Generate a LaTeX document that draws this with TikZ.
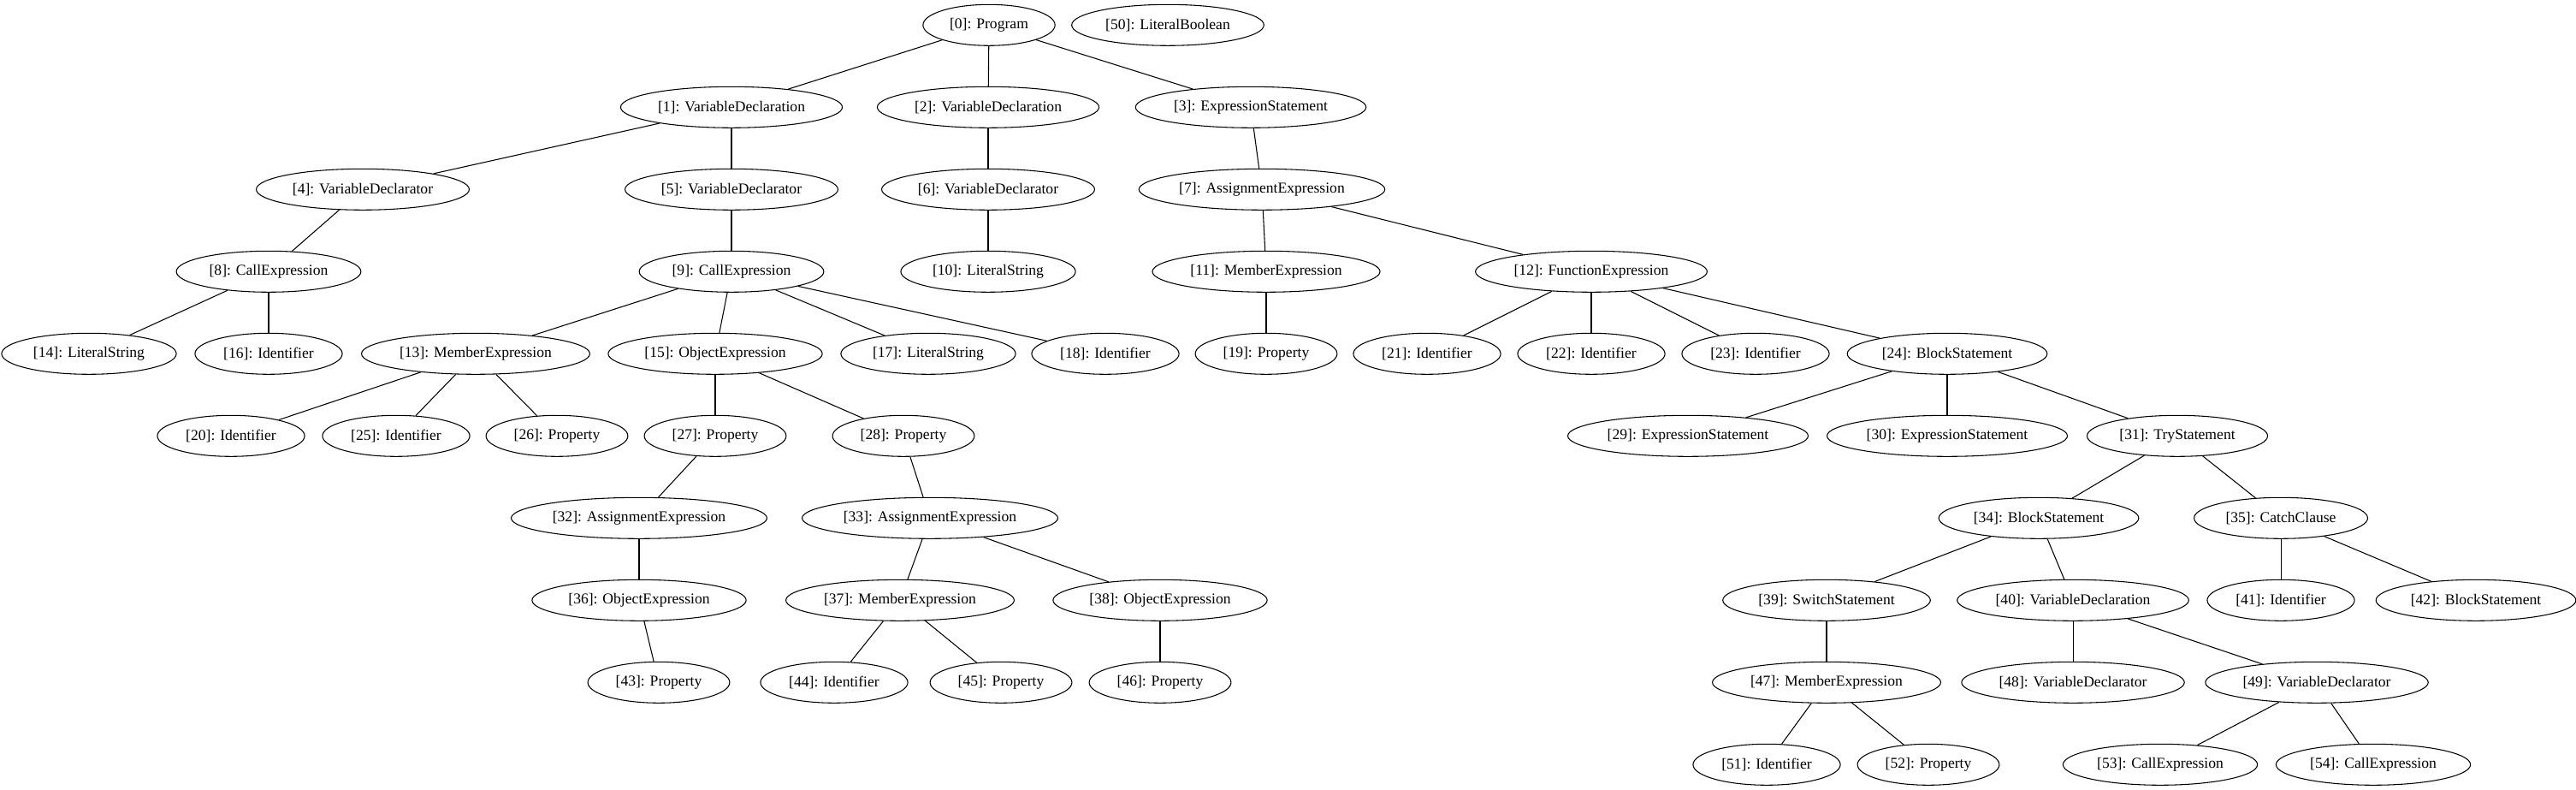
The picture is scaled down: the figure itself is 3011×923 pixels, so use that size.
\documentclass[tikz,border=0pt]{standalone}
\usepackage{fontspec}
\setmainfont{Liberation Serif}
\usetikzlibrary{shapes.geometric}
\newcommand{\lb}[1]{\makebox[0.926\width][c]{#1}}
\begin{document}
\begin{tikzpicture}[x=0.75pt,y=-0.75pt,
  tn/.style={draw,ellipse,line width=0.8pt,font=\fontsize{13.2}{15}\selectfont,inner xsep=9pt,inner ysep=4pt,minimum height=36pt,minimum width=54pt},
  ed/.style={draw,line width=0.8pt}]
\useasboundingbox (0,0) rectangle (3011,923);
\def\ra{29.3}\def\rb{125.3}\def\rc{221.3}\def\rd{317.3}\def\re{413.3}
\def\rf{509.3}\def\rg{605.3}\def\rh{701.3}\def\ri{797.3}\def\rj{893.3}
% row 0
\node[tn] (n0) at (1156,\ra) {\lb{[0]: Program}};
\node[tn] (n50) at (1365,\ra) {\lb{[50]: LiteralBoolean}};
% row 1
\node[tn] (n1) at (855,\rb) {\lb{[1]: VariableDeclaration}};
\node[tn] (n2) at (1155,\rb) {\lb{[2]: VariableDeclaration}};
\node[tn] (n3) at (1462,\rb) {\lb{[3]: ExpressionStatement}};
% row 2
\node[tn] (n4) at (424,\rc) {\lb{[4]: VariableDeclarator}};
\node[tn] (n5) at (855,\rc) {\lb{[5]: VariableDeclarator}};
\node[tn] (n6) at (1155,\rc) {\lb{[6]: VariableDeclarator}};
\node[tn] (n7) at (1475,\rc) {\lb{[7]: AssignmentExpression}};
% row 3
\node[tn] (n8) at (314,\rd) {\lb{[8]: CallExpression}};
\node[tn] (n9) at (855,\rd) {\lb{[9]: CallExpression}};
\node[tn] (n10) at (1155,\rd) {\lb{[10]: LiteralString}};
\node[tn] (n11) at (1480,\rd) {\lb{[11]: MemberExpression}};
\node[tn] (n12) at (1860,\rd) {\lb{[12]: FunctionExpression}};
% row 4
\node[tn] (n14) at (104,\re) {\lb{[14]: LiteralString}};
\node[tn] (n16) at (314,\re) {\lb{[16]: Identifier}};
\node[tn] (n13) at (556,\re) {\lb{[13]: MemberExpression}};
\node[tn] (n15) at (836,\re) {\lb{[15]: ObjectExpression}};
\node[tn] (n17) at (1085,\re) {\lb{[17]: LiteralString}};
\node[tn] (n18) at (1292,\re) {\lb{[18]: Identifier}};
\node[tn] (n19) at (1480,\re) {\lb{[19]: Property}};
\node[tn] (n21) at (1668,\re) {\lb{[21]: Identifier}};
\node[tn] (n22) at (1860,\re) {\lb{[22]: Identifier}};
\node[tn] (n23) at (2052,\re) {\lb{[23]: Identifier}};
\node[tn] (n24) at (2276,\re) {\lb{[24]: BlockStatement}};
% row 5
\node[tn] (n20) at (270,\rf) {\lb{[20]: Identifier}};
\node[tn] (n25) at (463,\rf) {\lb{[25]: Identifier}};
\node[tn] (n26) at (651,\rf) {\lb{[26]: Property}};
\node[tn] (n27) at (836,\rf) {\lb{[27]: Property}};
\node[tn] (n28) at (1056,\rf) {\lb{[28]: Property}};
\node[tn] (n29) at (1973,\rf) {\lb{[29]: ExpressionStatement}};
\node[tn] (n30) at (2276,\rf) {\lb{[30]: ExpressionStatement}};
\node[tn] (n31) at (2545,\rf) {\lb{[31]: TryStatement}};
% row 6
\node[tn] (n32) at (747,\rg) {\lb{[32]: AssignmentExpression}};
\node[tn] (n33) at (1087,\rg) {\lb{[33]: AssignmentExpression}};
\node[tn] (n34) at (2383,\rg) {\lb{[34]: BlockStatement}};
\node[tn] (n35) at (2666,\rg) {\lb{[35]: CatchClause}};
% row 7
\node[tn] (n36) at (747,\rh) {\lb{[36]: ObjectExpression}};
\node[tn] (n37) at (1052,\rh) {\lb{[37]: MemberExpression}};
\node[tn] (n38) at (1356,\rh) {\lb{[38]: ObjectExpression}};
\node[tn] (n39) at (2135,\rh) {\lb{[39]: SwitchStatement}};
\node[tn] (n40) at (2423,\rh) {\lb{[40]: VariableDeclaration}};
\node[tn] (n41) at (2666,\rh) {\lb{[41]: Identifier}};
\node[tn] (n42) at (2894,\rh) {\lb{[42]: BlockStatement}};
% row 8
\node[tn] (n43) at (770,\ri) {\lb{[43]: Property}};
\node[tn] (n44) at (975,\ri) {\lb{[44]: Identifier}};
\node[tn] (n45) at (1170,\ri) {\lb{[45]: Property}};
\node[tn] (n46) at (1356,\ri) {\lb{[46]: Property}};
\node[tn] (n47) at (2135,\ri) {\lb{[47]: MemberExpression}};
\node[tn] (n48) at (2423,\ri) {\lb{[48]: VariableDeclarator}};
\node[tn] (n49) at (2708,\ri) {\lb{[49]: VariableDeclarator}};
% row 9
\node[tn] (n51) at (2065,\rj) {\lb{[51]: Identifier}};
\node[tn] (n52) at (2254,\rj) {\lb{[52]: Property}};
\node[tn] (n53) at (2525,\rj) {\lb{[53]: CallExpression}};
\node[tn] (n54) at (2774,\rj) {\lb{[54]: CallExpression}};
% edges
\foreach \a/\b in {n0/n1,n0/n2,n0/n3,n1/n4,n1/n5,n2/n6,n3/n7,n4/n8,n5/n9,n6/n10,n7/n11,n7/n12,
  n8/n14,n8/n16,n9/n13,n9/n15,n9/n17,n9/n18,n11/n19,n12/n21,n12/n22,n12/n23,n12/n24,
  n13/n20,n13/n25,n13/n26,n15/n27,n15/n28,n24/n29,n24/n30,n24/n31,
  n27/n32,n28/n33,n31/n34,n31/n35,n32/n36,n33/n37,n33/n38,n34/n39,n34/n40,n35/n41,n35/n42,
  n36/n43,n37/n44,n37/n45,n38/n46,n39/n47,n40/n48,n40/n49,n47/n51,n47/n52,n49/n53,n49/n54}
  \draw[ed] (\a) -- (\b);
\end{tikzpicture}
\end{document}
